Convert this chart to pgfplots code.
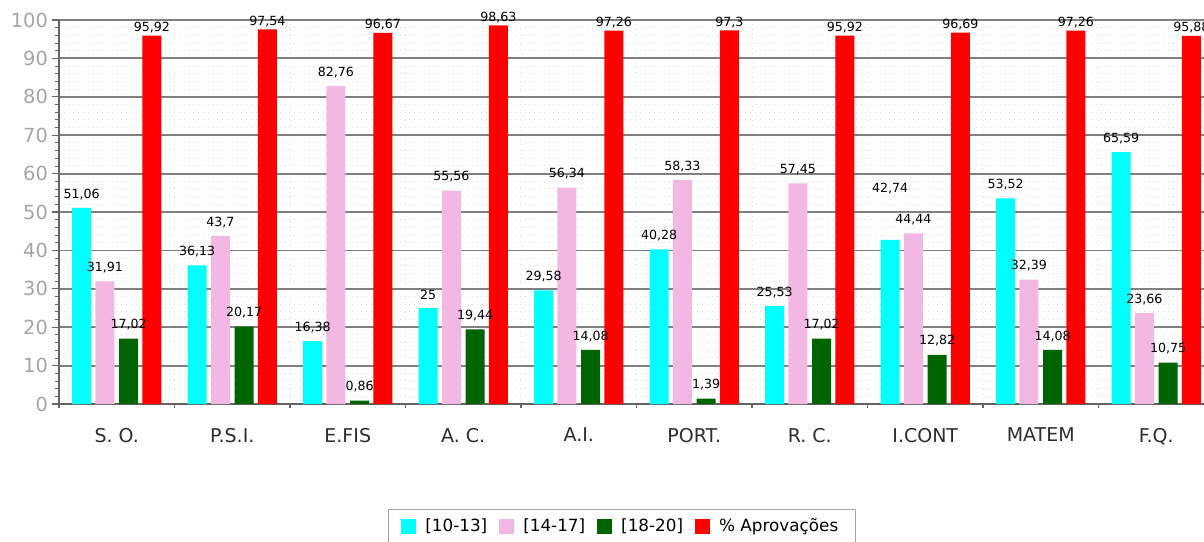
\documentclass[border=0pt]{standalone}
\usepackage{fontspec}
\setmainfont{DejaVu Sans}
\usepackage{pgfplots}
\usepackage{pgfplotstable}
\pgfplotsset{compat=1.18}
\definecolor{cCyan}{RGB}{0,255,255}
\definecolor{cPink}{RGB}{243,183,227}
\definecolor{cGreen}{RGB}{0,100,0}
\definecolor{cRed}{RGB}{255,0,0}
\definecolor{cTick}{RGB}{165,165,165}
\definecolor{cLab}{RGB}{45,45,45}
\definecolor{cAxis}{RGB}{100,100,100}
\definecolor{cGrid}{RGB}{128,128,128}
\definecolor{cMinor}{RGB}{225,225,225}
\pgfplotstableread{
x y lab off
0 51.06 51,06 0
1 36.13 36,13 0
2 16.38 16,38 0
3 25 25 0
4 29.58 29,58 0
5 40.28 40,28 0
6 25.53 25,53 0
7 42.74 42,74 19
8 53.52 53,52 0
9 65.59 65,59 0
}\cyandata
\begin{document}
\begin{tikzpicture}
\begin{axis}[
  at={(0,0)}, anchor=south west,
  scale only axis, width=572.3pt, height=192pt,
  xmin=-0.5, xmax=9.41, ymin=0, ymax=100,
  axis x line*=bottom, axis y line*=left,
  axis line style={draw=cAxis, line width=0.8pt},
  ybar, bar width=9.5pt,
  clip=false,
  xtick={0,...,9},
  xticklabels={S. O., P.S.I., E.FIS, A. C., A.I., PORT., R. C., I.CONT, MATEM, F.Q.},
  major x tick style={draw=none},
  minor xtick={-0.5,0.5,...,9.5},
  minor x tick style={draw=cAxis, line width=0.6pt},
  tick align=outside,
  major tick length=3.5pt, minor tick length=2pt,
  ytick={0,10,...,100}, minor y tick num=4,
  major y tick style={draw=cAxis, line width=0.6pt},
  minor y tick style={draw=cAxis, line width=0.4pt},
  ymajorgrids, yminorgrids, xminorgrids,
  major grid style={draw=cGrid, line width=0.9pt},
  minor grid style={draw=cMinor, dotted, line width=0.5pt},
  /pgf/number format/assume math mode=true,
  yticklabel style={font=\fontsize{9.7}{11}\selectfont, text=cTick, xshift=1.5pt},
  xticklabel style={font=\fontsize{9.5}{11}\selectfont, text=cLab, yshift=-5pt},
  point meta=explicit symbolic,
  nodes near coords,
  every node near coord/.append style={font=\fontsize{6.3}{7}\selectfont, text=black, inner sep=1pt},
  legend columns=-1,
  legend style={at={(0.2874,-0.2734)}, anchor=north west, draw=cTick,
    font=\fontsize{8.4}{10}\selectfont, inner xsep=6.5pt, inner ysep=2.5pt,
    /tikz/every odd column/.append style={column sep=2.5pt},
    /tikz/every even column/.append style={column sep=4pt}},
  legend image code/.code={\fill[#1] (0pt,-3.75pt) rectangle (7.5pt,3.75pt);},
]
\addplot[fill=cCyan, draw=none, bar shift=-17.6pt,
  visualization depends on={\thisrow{off}\as\myoff},
  every node near coord/.append style={yshift=3pt+\myoff pt}]
  table[x=x, y=y, meta=lab] {\cyandata};
\addlegendentry{\relax[10-13]}
\addplot[fill=cPink, draw=none, bar shift=-5.9pt, every node near coord/.append style={yshift=3pt}] coordinates {
  (0,31.91) [31,91] (1,43.7) [43,7] (2,82.76) [82,76] (3,55.56) [55,56] (4,56.34) [56,34]
  (5,58.33) [58,33] (6,57.45) [57,45] (7,44.44) [44,44] (8,32.39) [32,39] (9,23.66) [23,66]};
\addlegendentry{\relax[14-17]}
\addplot[fill=cGreen, draw=none, bar shift=5.9pt, every node near coord/.append style={yshift=3pt}] coordinates {
  (0,17.02) [17,02] (1,20.17) [20,17] (2,0.86) [0,86] (3,19.44) [19,44] (4,14.08) [14,08]
  (5,1.39) [1,39] (6,17.02) [17,02] (7,12.82) [12,82] (8,14.08) [14,08] (9,10.75) [10,75]};
\addlegendentry{\relax[18-20]}
\addplot[fill=cRed, draw=none, bar shift=17.6pt, every node near coord/.append style={yshift=0pt}] coordinates {
  (0,95.92) [95,92] (1,97.54) [97,54] (2,96.67) [96,67] (3,98.63) [98,63] (4,97.26) [97,26]
  (5,97.3) [97,3] (6,95.92) [95,92] (7,96.69) [96,69] (8,97.26) [97,26] (9,95.88) [95,88]};
\addlegendentry{\% Aprovações}
\end{axis}
\pgfresetboundingbox
\useasboundingbox (-29.5pt,-68.5pt) rectangle (572.5pt,202pt);
\end{tikzpicture}
\end{document}
